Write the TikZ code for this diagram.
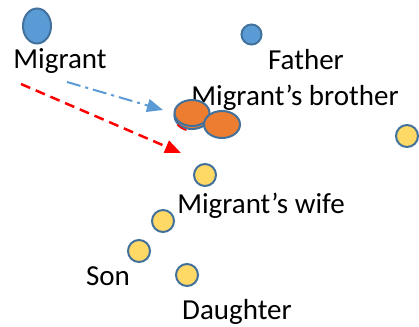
\documentclass[tikz,border=0pt]{standalone}
\usepackage{fontspec}
\setmainfont{Carlito}
\usetikzlibrary{arrows.meta,shapes.geometric}
\definecolor{pblue}{HTML}{5B9BD5}
\definecolor{pedge}{HTML}{41719C}
\definecolor{porange}{HTML}{ED7D31}
\definecolor{pyellow}{HTML}{FFD966}
\begin{document}
\begin{tikzpicture}[x=1pt,y=-1pt,
  person/.style={draw=pedge,line width=2pt},
  lbl/.style={anchor=base,inner sep=0pt,font=\fontsize{29}{34}\selectfont},
  yel/.style={person,fill=pyellow,circle,minimum size=22pt,inner sep=0pt},
  orng/.style={person,fill=porange,ellipse,minimum width=35pt,minimum height=26pt,inner sep=0pt},
  tip/.style={-{Triangle[length=16pt,width=13pt]}}]
\useasboundingbox (0,0) rectangle (419,326);
% labels (under shapes)
\node[lbl] (tmig) at (60,69) {Migrant};
\node[lbl] (tfat) at (306,70) {Father};
\node[lbl] (tbro) at (295,105) {Migrant’s brother};
\node[lbl] (twif) at (261,213) {Migrant’s wife};
\node[lbl] (tson) at (108,285) {Son};
\node[lbl] (tdau) at (237,319) {Daughter};
% people
\node[person,fill=pblue,ellipse,minimum width=28pt,minimum height=35pt,inner sep=0pt] (mig) at (37,26) {};
\node[person,fill=pblue,circle,minimum size=20pt,inner sep=0pt] (fat) at (251.5,34.5) {};
\node[orng] (bro0) at (192,116) {};
\draw[red,line width=1.5pt] (bro0.-150) arc[start angle=210,end angle=250,x radius=17.5pt,y radius=13pt];
\node[orng] (bro) at (192,113) {};
\node[orng,minimum width=36pt,minimum height=27pt] (bro2) at (222,124.5) {};
\node[yel] (r) at (407,136) {};
\node[yel] (wif) at (205,175) {};
\node[yel] (c1) at (163,221) {};
\node[yel] (son) at (139,251) {};
\node[yel] (dau) at (187,275) {};
% arrows
\coordinate (a1) at (67,82);
\coordinate (b1) at (163,110);
\coordinate (a2) at (21,84);
\coordinate (b2) at (181,153);
\draw[pblue,line width=2pt,tip,dash pattern=on 14pt off 5pt on 3pt off 5pt] (a1) -- (b1);
\draw[red,line width=2.5pt,tip,dash pattern=on 10pt off 6pt] (a2) -- (b2);
\end{tikzpicture}
\end{document}
